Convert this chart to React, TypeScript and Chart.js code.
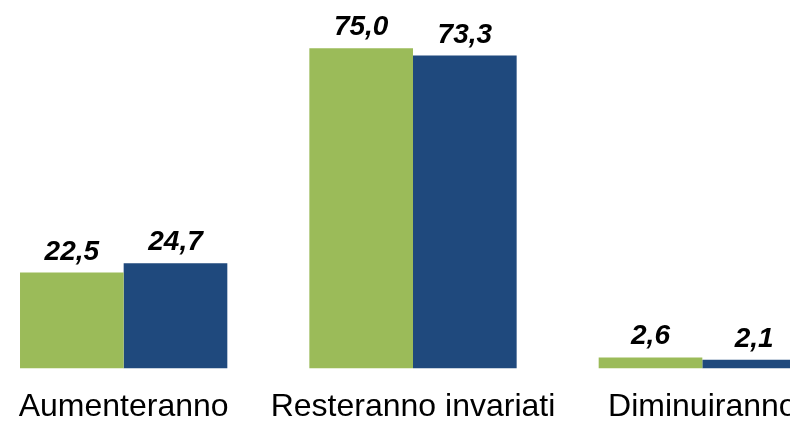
import React, { useEffect, useRef } from "react";
import { Chart, registerables } from "chart.js";

Chart.register(...registerables);

const categories = ["Aumenteranno", "Resteranno invariati", "Diminuiranno"];
const seriesA = [22.5, 75.0, 2.6];
const seriesB = [24.7, 73.3, 2.1];
const seriesNames = ["Serie 1", "Serie 2"];

const FONT = "'Liberation Sans', Arial, sans-serif";

const valueLabels = {
  id: "valueLabels",
  afterDatasetsDraw(chart: any) {
    const ctx = chart.ctx;
    ctx.save();
    ctx.font = `italic bold 28px ${FONT}`;
    ctx.fillStyle = "#000";
    ctx.textAlign = "center";
    ctx.textBaseline = "alphabetic";
    chart.data.datasets.forEach((ds: any, i: number) => {
      const meta = chart.getDatasetMeta(i);
      meta.data.forEach((el: any, j: number) => {
        const v = ds.data[j] as number;
        ctx.fillText(v.toFixed(1).replace(".", ","), el.x, el.y - 13);
      });
    });
    ctx.restore();
  },
};

export default function App() {
  const ref = useRef<HTMLCanvasElement | null>(null);
  useEffect(() => {
    if (!ref.current) return;
    const chart = new Chart(ref.current, {
      type: "bar",
      data: {
        labels: categories,
        datasets: [
          {
            label: seriesNames[0],
            data: seriesA,
            backgroundColor: "#9BBB59",
            borderWidth: 0,
          },
          {
            label: seriesNames[1],
            data: seriesB,
            backgroundColor: "#1F497D",
            borderWidth: 0,
          },
        ],
      },
      options: {
        animation: false,
        responsive: true,
        maintainAspectRatio: false,
        layout: { padding: { top: 27, left: 0, right: 0, bottom: 0 } },
        datasets: {
          bar: { categoryPercentage: 0.7165, barPercentage: 1.0 },
        },
        plugins: {
          legend: { display: false },
          tooltip: { enabled: false },
        },
        scales: {
          x: {
            grid: { display: false, drawTicks: false },
            border: { display: false },
            ticks: {
              color: "#000",
              font: { family: FONT, size: 32 },
              padding: 19,
              maxRotation: 0,
              autoSkip: false,
            },
          },
          y: {
            display: false,
            min: 0,
            max: 80,
          },
        },
      },
      plugins: [valueLabels],
    });
    return () => chart.destroy();
  }, []);

  return (
    <div
      style={{
        position: "fixed",
        left: 0,
        top: 0,
        width: 790,
        height: 421,
        overflow: "hidden",
        background: "#fff",
      }}
    >
      <div
        style={{
          position: "absolute",
          left: -21,
          top: 0,
          width: 868,
          height: 445,
        }}
      >
        <canvas ref={ref} />
      </div>
    </div>
  );
}
